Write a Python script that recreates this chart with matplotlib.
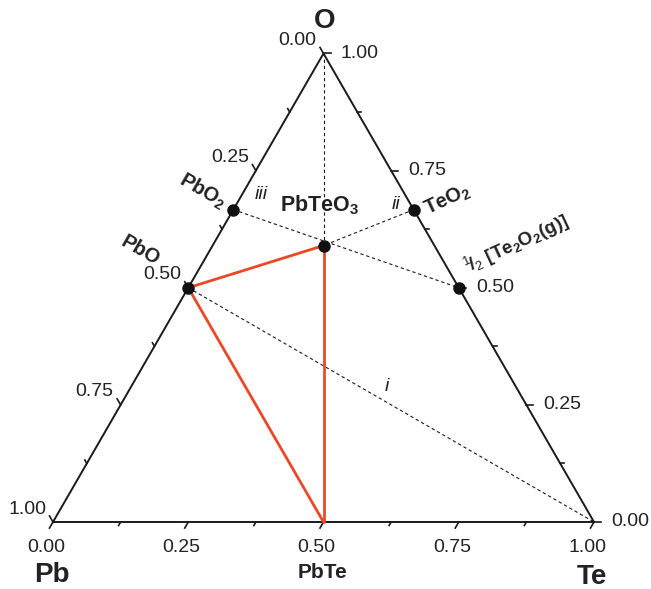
import numpy as np
import matplotlib.pyplot as plt

plt.rcParams['font.family'] = ['Liberation Sans', 'DejaVu Sans']
plt.rcParams['mathtext.fontset'] = 'custom'
plt.rcParams['mathtext.rm'] = 'Liberation Sans'
plt.rcParams['mathtext.bf'] = 'Liberation Sans:bold'
plt.rcParams['mathtext.it'] = 'Liberation Sans:italic'
plt.rcParams['mathtext.default'] = 'bf'

# --- Data: compositions as (Pb, Te, O) fractions ---
phase_names = ['Pb', 'Te', 'O', 'PbO2', 'PbO', 'PbTeO3', 'TeO2', 'TeO', 'PbTe']
phase_pb = [1.0, 0.0, 0.0, 1/3, 0.5, 0.205, 0.0, 0.0, 0.5]
phase_te = [0.0, 1.0, 0.0, 0.0, 0.0, 0.205, 1/3, 0.5, 0.5]
phase_o = [0.0, 0.0, 1.0, 2/3, 0.5, 0.59, 2/3, 0.5, 0.0]

dot_phases = ['PbO2', 'PbO', 'PbTeO3', 'TeO2', 'TeO']
red_ties = [('PbO', 'PbTeO3'), ('PbTeO3', 'PbTe'), ('PbTe', 'PbO')]
dashed_ties = [('O', 'PbTeO3'), ('PbO2', 'TeO'), ('TeO2', 'PbTeO3'), ('PbO', 'Te')]

tick_values = np.arange(0, 1.0001, 0.125)
tick_labels = ['0.00', '0.25', '0.50', '0.75', '1.00']

RED = '#ec4826'
TXT = '#222222'
LINE = '#1a1a1a'


def to_xy(pb, te, o):
    return te + 0.5 * o, o * np.sqrt(3) / 2


comp = {n: to_xy(p, t, o) for n, p, t, o in zip(phase_names, phase_pb, phase_te, phase_o)}

fig = plt.figure(figsize=(6.51, 5.89), dpi=100)
ax = fig.add_axes([0, 0, 1, 1])
s = 541.0  # pixels per unit side
ax.set_xlim(-53 / s, (651 - 53) / s)
ax.set_ylim((522 - 589) / s, 522 / s)
ax.axis('off')

# triangle
Pb, Te, O = np.array(comp['Pb']), np.array(comp['Te']), np.array(comp['O'])
tri = np.array([Pb, Te, O, Pb])
ax.plot(tri[:, 0], tri[:, 1], color=LINE, lw=1.4, solid_joinstyle='miter', zorder=3)

# ticks and tick labels
d_bottom = np.array([-0.5, -np.sqrt(3) / 2])
d_left = np.array([-0.5, np.sqrt(3) / 2])
d_right = np.array([1.0, 0.0])
for k, v in enumerate(tick_values):
    L = (7 if k % 2 == 0 else 4) / s
    bt_pt = Pb + v * (Te - Pb)        # bottom: 0 at Pb, 1 at Te
    lf_pt = O + v * (Pb - O)          # left: 0 at O, 1 at Pb
    rt_pt = Te + v * (O - Te)         # right: 0 at Te, 1 at O
    for p, d in ((bt_pt, d_bottom), (lf_pt, d_left), (rt_pt, d_right)):
        ax.plot([p[0], p[0] + L * d[0]], [p[1], p[1] + L * d[1]], color=LINE, lw=1.2, zorder=3)
    if k % 2 == 0:
        lab = tick_labels[k // 2]
        ax.annotate(lab, bt_pt, xytext=(-7, -26), textcoords='offset pixels',
                    ha='center', va='center', fontsize=14, color=TXT)
        ax.annotate(lab, lf_pt, xytext=(-7, 13), textcoords='offset pixels',
                    ha='right', va='center', fontsize=14, color=TXT)
        ax.annotate(lab, rt_pt, xytext=(17, 0), textcoords='offset pixels',
                    ha='left', va='center', fontsize=14, color=TXT)

# tie lines
for a, b in dashed_ties:
    ax.plot([comp[a][0], comp[b][0]], [comp[a][1], comp[b][1]], color=LINE,
            lw=0.8, dashes=(3, 2.5), zorder=2)
for a, b in red_ties:
    ax.plot([comp[a][0], comp[b][0]], [comp[a][1], comp[b][1]], color=RED,
            lw=2.0, zorder=4, solid_capstyle='round')

ax.plot([comp[n][0] for n in dot_phases], [comp[n][1] for n in dot_phases], 'o',
        color='#111111', ms=8, zorder=5)


# phase labels
def label(name, text, dx, dy, size, rot=0, **kw):
    ax.annotate(text, comp[name], xytext=(dx, dy), textcoords='offset pixels',
                ha='center', va='center', fontsize=size, rotation=rot,
                fontweight='bold', color=TXT, **kw)


label('O', 'O', 1, 32, 20)
label('Pb', 'Pb', -1, -53, 20)
label('Te', 'Te', -2, -55, 20)
label('PbTe', 'PbTe', -1, -50, 15)
label('PbO2', 'PbO$_2$', -31, 19, 14.5, rot=-30)
label('PbO', 'PbO', -48, 37, 14.5, rot=-30)
label('PbTeO3', 'PbTeO$_3$', -4, 40, 15.5)
label('TeO2', 'TeO$_2$', 34, 10, 14.5, rot=25)
label('TeO', r'$^{\mathrm{1}}\!/_{\mathrm{2}}$ [Te$_2$O$_2$(g)]', 58, 44, 13.5, rot=25)

ax.annotate('iii', comp['PbO2'], xytext=(28, 15), textcoords='offset pixels',
            ha='center', va='center', fontsize=14, style='italic', color=TXT)
ax.annotate('ii', comp['TeO2'], xytext=(-18, 5), textcoords='offset pixels',
            ha='center', va='center', fontsize=14, style='italic', color=TXT)
ax.annotate('i', comp['PbO'], xytext=(199, -99), textcoords='offset pixels',
            ha='center', va='center', fontsize=14, style='italic', color=TXT)

fig.savefig('out.png', dpi=100)
